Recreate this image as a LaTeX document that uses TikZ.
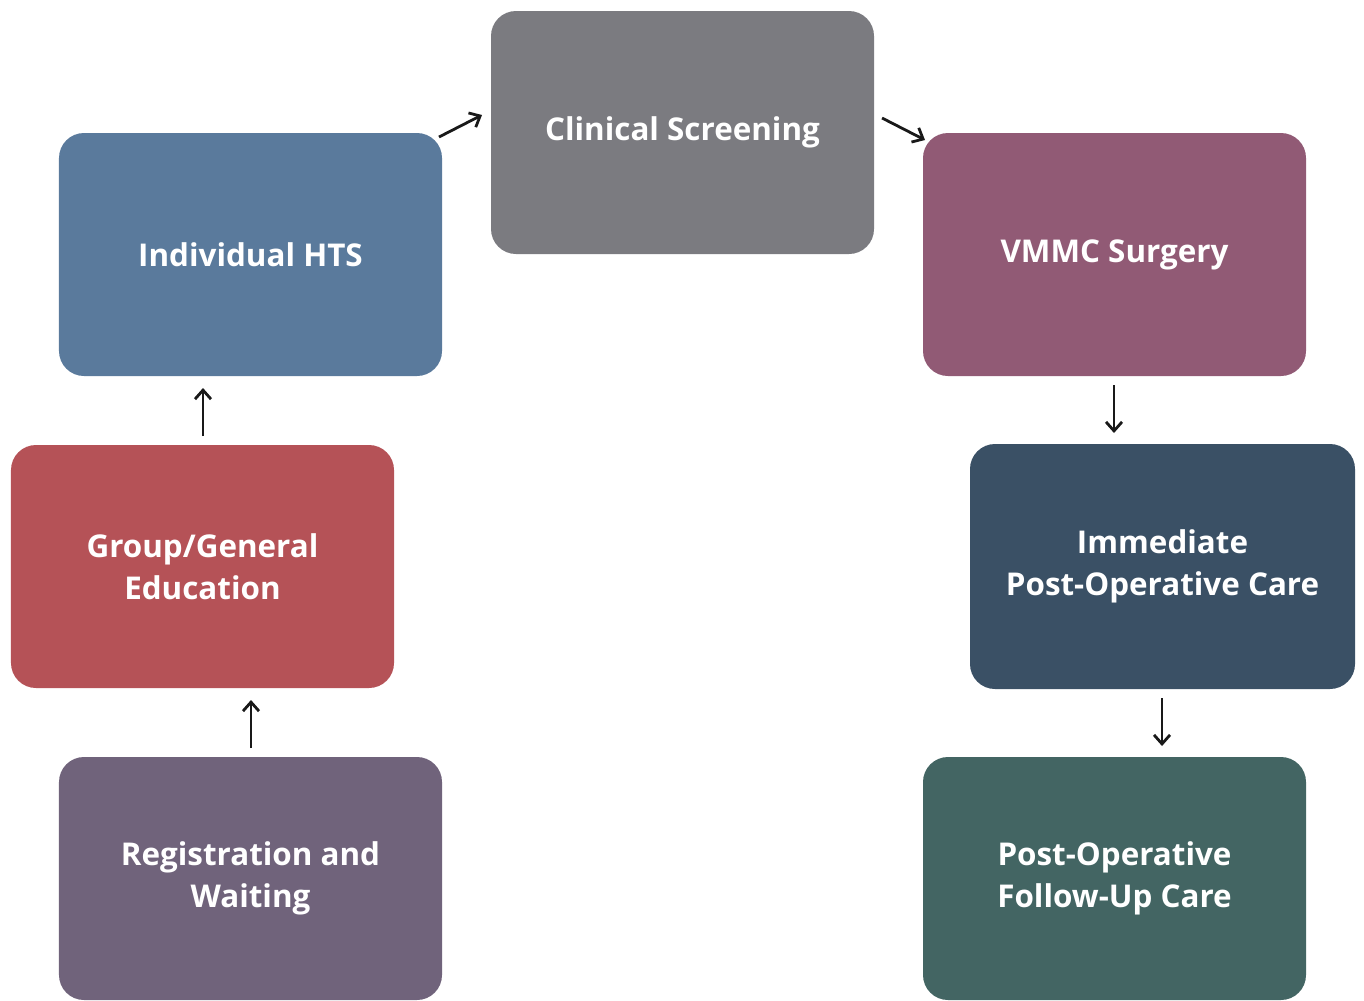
\documentclass[tikz,border=0pt]{standalone}
\usepackage{fontspec}
\setmainfont{Open Sans}
\usetikzlibrary{arrows.meta}
\definecolor{cReg}{HTML}{70637B}
\definecolor{cGrp}{HTML}{B55257}
\definecolor{cHts}{HTML}{5A7A9C}
\definecolor{cCli}{HTML}{7B7B80}
\definecolor{cVmc}{HTML}{915A75}
\definecolor{cImm}{HTML}{3A5065}
\definecolor{cFol}{HTML}{436563}
\tikzset{
  stage/.style={draw=none, rounded corners=25bp, minimum width=383bp, minimum height=243bp,
    inner sep=0pt, align=center, text=white, font=\fontsize{31.5}{42}\selectfont\bfseries},
  flow/.style={draw=black!90, line width=2.8bp, -{Straight Barb[length=9bp,width=16bp,line width=2.8bp]}}
}
\begin{document}
\begin{tikzpicture}[x=1bp,y=-1bp]
\useasboundingbox (0,0) rectangle (1364,1000);
\node[stage, fill=cReg] (reg) at (250.5,878.5) {Registration and\\Waiting};
\node[stage, fill=cGrp] (grp) at (202.5,566.5) {Group/General\\Education};
\node[stage, fill=cHts] (hts) at (250.5,254.5) {Individual HTS};
\node[stage, fill=cCli] (cli) at (682.5,132.5) {Clinical Screening};
\node[stage, fill=cVmc] (vmc) at (1114.5,254.5) {VMMC Surgery};
\node[stage, fill=cImm, minimum width=385bp, minimum height=245bp] (imm) at (1162.5,566.5) {Immediate\\Post-Operative Care};
\node[stage, fill=cFol] (fol) at (1114.5,878.5) {Post-Operative\\Follow-Up Care};
\coordinate (a1) at (251,748); \coordinate (b1) at (251,700);
\coordinate (a2) at (203,436); \coordinate (b2) at (203,388);
\coordinate (a3) at (439,137); \coordinate (b3) at (482,115);
\coordinate (a4) at (882,118); \coordinate (b4) at (925,140);
\coordinate (a5) at (1114,385); \coordinate (b5) at (1114,433);
\coordinate (a6) at (1162,698); \coordinate (b6) at (1162,746);
\draw[flow] (a1) -- (b1);
\draw[flow] (a2) -- (b2);
\draw[flow] (a3) -- (b3);
\draw[flow] (a4) -- (b4);
\draw[flow] (a5) -- (b5);
\draw[flow] (a6) -- (b6);
\end{tikzpicture}
\end{document}
